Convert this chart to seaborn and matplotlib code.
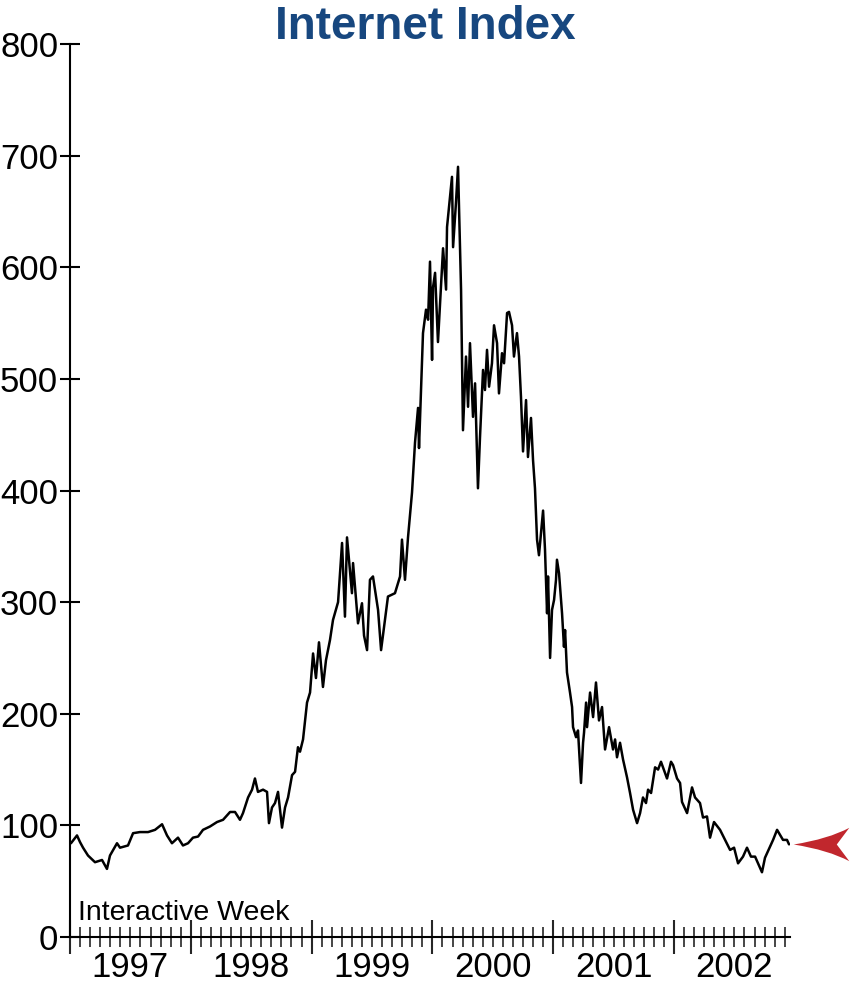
import matplotlib
matplotlib.use("Agg")
import matplotlib.pyplot as plt
from matplotlib import font_manager
from matplotlib.path import Path
from matplotlib.transforms import offset_copy
import seaborn as sns


# ============================================================
# DATA (decimal years)
# ============================================================
dates = [
    1997.008, 1997.058, 1997.083, 1997.108, 1997.149, 1997.207, 1997.265, 1997.306,
    1997.331, 1997.389, 1997.414, 1997.480, 1997.522, 1997.579, 1997.646, 1997.704,
    1997.762, 1997.803, 1997.844, 1997.894, 1997.935, 1997.977, 1998.018, 1998.060,
    1998.101, 1998.159, 1998.217, 1998.267, 1998.325, 1998.366, 1998.407, 1998.432,
    1998.474, 1998.507, 1998.531, 1998.556, 1998.598, 1998.631, 1998.647, 1998.672,
    1998.697, 1998.722, 1998.755, 1998.780, 1998.805, 1998.838, 1998.863, 1998.887,
    1998.904, 1998.929, 1998.962, 1998.987, 1999.012, 1999.036, 1999.061, 1999.094,
    1999.119, 1999.152, 1999.177, 1999.219, 1999.252, 1999.276, 1999.293, 1999.334,
    1999.343, 1999.384, 1999.417, 1999.434, 1999.459, 1999.483, 1999.508, 1999.550,
    1999.575, 1999.632, 1999.690, 1999.732, 1999.748, 1999.773, 1999.798, 1999.831,
    1999.856, 1999.881, 1999.889, 1999.914, 1999.922, 1999.947, 1999.964, 1999.980,
    1999.997, 2000.005, 2000.022, 2000.046, 2000.088, 2000.113, 2000.121, 2000.146,
    2000.162, 2000.171, 2000.195, 2000.212, 2000.237, 2000.253, 2000.278, 2000.295,
    2000.311, 2000.336, 2000.353, 2000.377, 2000.394, 2000.419, 2000.435, 2000.452,
    2000.469, 2000.493, 2000.510, 2000.535, 2000.551, 2000.576, 2000.593, 2000.618,
    2000.634, 2000.659, 2000.675, 2000.700, 2000.717, 2000.733, 2000.750, 2000.775,
    2000.791, 2000.816, 2000.833, 2000.849, 2000.866, 2000.882, 2000.916, 2000.932,
    2000.949, 2000.957, 2000.974, 2000.990, 2001.007, 2001.023, 2001.031, 2001.048,
    2001.073, 2001.089, 2001.098, 2001.114, 2001.139, 2001.156, 2001.164, 2001.189,
    2001.205, 2001.230, 2001.247, 2001.255, 2001.272, 2001.280, 2001.305, 2001.330,
    2001.354, 2001.379, 2001.404, 2001.429, 2001.462, 2001.495, 2001.512, 2001.528,
    2001.553, 2001.578, 2001.611, 2001.636, 2001.661, 2001.694, 2001.719, 2001.743,
    2001.768, 2001.785, 2001.810, 2001.843, 2001.868, 2001.892, 2001.925, 2001.942,
    2001.975, 2001.992, 2002.025, 2002.050, 2002.066, 2002.108, 2002.149, 2002.174,
    2002.215, 2002.240, 2002.273, 2002.298, 2002.331, 2002.381, 2002.422, 2002.464,
    2002.497, 2002.530, 2002.571, 2002.604, 2002.637, 2002.671, 2002.728, 2002.753,
    2002.795, 2002.820, 2002.853, 2002.886, 2002.902, 2002.935, 2002.952,
]

index_values = [
    84, 91, 85, 80, 73, 67, 69, 61,
    73, 84, 80, 82, 93, 94, 94, 96,
    101, 91, 84, 89, 82, 84, 89, 90,
    96, 99, 103, 105, 112, 112, 105, 111,
    125, 132, 142, 130, 132, 130, 102, 116,
    120, 130, 98, 116, 125, 145, 148, 170,
    166, 177, 210, 219, 254, 232, 264, 224,
    248, 266, 284, 300, 353, 287, 358, 308,
    335, 281, 299, 270, 257, 320, 323, 293,
    257, 305, 308, 323, 356, 320, 358, 398,
    443, 474, 438, 514, 541, 562, 553, 605,
    517, 582, 595, 533, 617, 580, 636, 663,
    681, 618, 658, 690, 580, 454, 520, 475,
    532, 466, 496, 402, 448, 508, 490, 526,
    493, 514, 548, 532, 487, 523, 514, 559,
    560, 548, 520, 541, 520, 484, 435, 481,
    430, 465, 427, 402, 356, 342, 382, 347,
    290, 323, 250, 293, 302, 320, 338, 326,
    290, 260, 275, 237, 219, 206, 188, 179,
    185, 138, 174, 183, 210, 188, 219, 197,
    228, 194, 206, 168, 188, 168, 177, 161,
    174, 159, 143, 129, 114, 102, 111, 125,
    120, 132, 129, 152, 150, 157, 147, 142,
    157, 154, 142, 138, 121, 111, 134, 125,
    120, 107, 108, 89, 103, 96, 87, 78,
    80, 66, 72, 80, 72, 72, 58, 71,
    81, 87, 96, 90, 87, 87, 83,
]

years = [1997, 1998, 1999, 2000, 2001, 2002]
y_ticks = [0, 100, 200, 300, 400, 500, 600, 700, 800]
title = "Internet Index"
source = "Interactive Week"


# ============================================================
# STYLE
# ============================================================
def has_font(name):
    try:
        font_manager.findfont(name, fallback_to_default=False)
        return True
    except ValueError:
        return False

sns.set_style("white")
families = [f for f in ["Liberation Sans"] if has_font(f)]
plt.rcParams["font.family"] = families + ["DejaVu Sans"]

ink = "black"
title_blue = "#17477f"
arrow_red = "#c1272d"

fig, ax = plt.subplots(figsize=(8.5, 9.9), dpi=100)
fig.subplots_adjust(left=70 / 850, right=790 / 850, bottom=1 - 937 / 990, top=1 - 44 / 990)

sns.lineplot(x=dates, y=index_values, ax=ax, color=ink, lw=1.8,
             estimator=None, sort=False)

ax.set_xlim(1997, 2002.96)
ax.set_ylim(0, 800)
ax.set_xlabel("")
ax.set_ylabel("")

# y axis
ax.set_yticks(y_ticks)
ax.set_yticklabels([str(v) for v in y_ticks])
ax.tick_params(axis="y", direction="inout", length=15, width=1.5,
               labelsize=25, pad=1, colors=ink, left=True)

# x axis: long ticks at year starts, short ones at months
ax.set_xticks(years)
ax.set_xticks([y + m / 12 for y in years for m in range(1, 12)], minor=True)
ax.set_xticklabels([])
ax.tick_params(axis="x", which="major", direction="inout", length=24, width=1.5, bottom=True)
ax.tick_params(axis="x", which="minor", direction="inout", length=14, width=1.2, bottom=True)

for y in years:
    ax.text(y + 0.5, -0.034, str(y), transform=ax.get_xaxis_transform(),
            ha="center", va="center", fontsize=25, color=ink)

for side in ["top", "right"]:
    ax.spines[side].set_visible(False)
for side in ["left", "bottom"]:
    ax.spines[side].set_linewidth(1.5)
    ax.spines[side].set_color(ink)

ax.text(8 / 720, 17 / 893, source, transform=ax.transAxes,
        ha="left", va="baseline", fontsize=20.5, color=ink)

fig.text(0.5, 1 - 27 / 990, title, ha="center", va="center",
         fontsize=33, fontweight="bold", color=title_blue)

# red arrow pointing at the latest value
arrow = Path(
    [(-1, 0), (0.25, 0.2), (1, 0.6), (0.55, 0), (1, -0.6), (0.25, -0.2), (-1, 0)],
    [Path.MOVETO, Path.CURVE3, Path.CURVE3, Path.LINETO, Path.LINETO, Path.CURVE3, Path.CURVE3],
)
shifted = offset_copy(ax.transData, fig=fig, x=31.5, y=0, units="dots")
ax.plot([dates[-1]], [index_values[-1]], marker=arrow, ms=40, color=arrow_red,
        mew=0, transform=shifted, clip_on=False, ls="none")

plt.savefig("out.png", dpi=100)
plt.close()
